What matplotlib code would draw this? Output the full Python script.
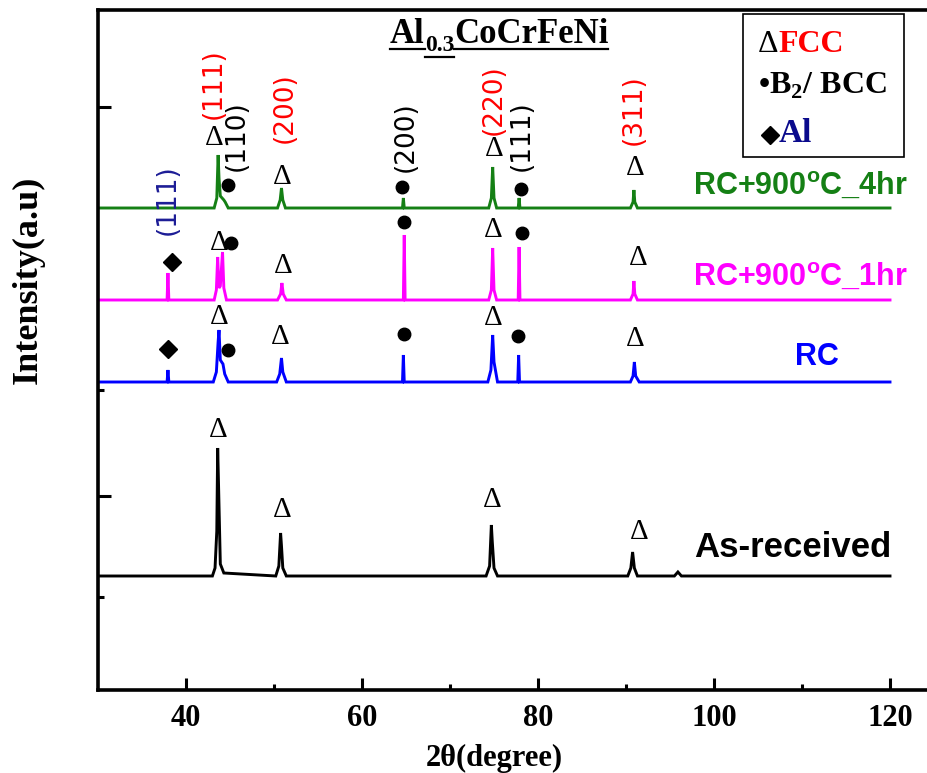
import matplotlib
matplotlib.use('Agg')
import matplotlib.pyplot as plt
from matplotlib.lines import Line2D
from matplotlib.patches import Rectangle
from matplotlib.ticker import FixedLocator

plt.rcParams['mathtext.fontset'] = 'custom'
plt.rcParams['mathtext.bf'] = 'Liberation Serif:bold'
plt.rcParams['mathtext.rm'] = 'Liberation Serif'
plt.rcParams['mathtext.sf'] = 'Liberation Sans:bold'

SERIF = 'Liberation Serif'
SANS = 'Liberation Sans'

# ---------------- data ----------------
# As-received
tt_asr = [30, 43.0, 43.3, 43.5, 43.6, 43.7, 43.9, 44.3, 50.2, 50.55, 50.75, 50.85, 51.0, 51.4,
          74.1, 74.5, 74.7, 74.8, 75.0, 75.4, 90.2, 90.55, 90.75, 90.95, 91.3, 95.5, 95.9, 96.3, 120]
int_asr = [0, 0, 8, 45, 128, 90, 12, 3, 0, 10, 43, 30, 8, 0,
           0, 10, 51, 35, 8, 0, 0, 8, 24, 8, 0, 0, 4, 0, 0]
# RC
tt_rc = [30, 37.85, 37.95, 38.05, 43.1, 43.45, 43.65, 43.75, 43.9, 44.2, 44.4, 44.8,
         50.3, 50.65, 50.85, 51.0, 51.4, 64.6, 64.7, 64.8, 74.3, 74.65, 74.85, 75.0, 75.4,
         77.7, 77.8, 77.9, 90.5, 90.8, 90.95, 91.1, 91.5, 120]
int_rc = [0, 0, 12, 0, 0, 10, 40, 52, 22, 18, 8, 0,
          0, 8, 24, 10, 0, 0, 27, 0, 0, 12, 47, 20, 0,
          0, 27, 0, 0, 6, 20, 6, 0, 0]
# RC+900C_1hr
tt_1h = [30, 37.85, 37.95, 38.05, 43.2, 43.45, 43.6, 43.75, 43.9, 44.15, 44.3, 44.6,
         50.4, 50.75, 50.9, 51.05, 51.4, 64.7, 64.8, 64.9, 74.4, 74.7, 74.85, 75.0, 75.3,
         77.75, 77.85, 77.95, 90.5, 90.8, 90.9, 91.0, 91.3, 120]
int_1h = [0, 0, 27, 0, 0, 10, 43, 12, 14, 48, 12, 0,
          0, 6, 17, 6, 0, 0, 65, 0, 0, 10, 52, 10, 0,
          0, 53, 0, 0, 6, 19, 6, 0, 0]
# RC+900C_4hr
tt_4h = [30, 43.2, 43.5, 43.65, 43.75, 43.9, 44.3, 44.45, 44.8, 50.4, 50.7, 50.85, 51.0, 51.3,
         64.6, 64.7, 64.8, 74.4, 74.7, 74.85, 75.0, 75.3, 77.75, 77.85, 77.95,
         90.5, 90.8, 90.9, 91.0, 91.3, 120]
int_4h = [0, 0, 10, 53, 30, 12, 8, 6, 0, 0, 8, 20, 8, 0,
          0, 10, 0, 0, 10, 41, 10, 0, 0, 10, 0,
          0, 6, 18, 6, 0, 0]

series_names = ["As-received", "RC", "RC+900$^{\\mathsf{o}}$C_1hr", "RC+900$^{\\mathsf{o}}$C_4hr"]
series_x = [tt_asr, tt_rc, tt_1h, tt_4h]
series_y = [int_asr, int_rc, int_1h, int_4h]
series_offset = [114, 308, 390, 482]
series_color = ['black', '#0000FF', '#FF00FF', '#158015']
series_label_pos = [(97.8, 133, 25), (109.2, 325, 22), (97.6, 404, 22), (97.6, 495, 22)]

x_ticks = [40, 60, 80, 100, 120]
x_minor = [50, 70, 90, 110]

# (hkl) labels: text, 2theta, y, colour
hkl_labels = [("(111)", 43.1, 606, '#FF0000'), ("(110)", 45.8, 554, 'black'),
              ("(200)", 51.25, 582, '#FF0000'), ("(200)", 65.0, 553, 'black'),
              ("(220)", 75.0, 590, '#FF0000'), ("(111)", 78.2, 554, 'black'),
              ("(311)", 90.9, 580, '#FF0000'), ("(111)", 37.95, 490, '#1c1c96')]
# phase markers
fcc_marks = [(43.18, 552), (50.9, 513), (75.0, 541), (91.02, 522),
             (43.75, 447), (51.0, 424), (74.9, 460), (91.36, 432),
             (43.75, 373), (50.68, 353), (74.9, 372), (91.02, 351),
             (43.64, 260), (50.9, 180), (74.77, 190), (91.48, 158)]
bcc_marks = [(44.77, 505), (64.55, 503), (78.07, 501),
             (45.11, 447), (64.77, 468), (78.18, 457),
             (44.77, 340), (64.77, 356), (77.73, 354)]
al_marks = [(38.4, 428), (37.95, 341)]

# ---------------- figure ----------------
W, H = 928, 773
fig = plt.figure(figsize=(W / 100, H / 100), dpi=100)
ax = fig.add_axes([98 / W, 83 / H, (934 - 98) / W, 680 / H])
ax.set_xlim(30, 125)
ax.set_ylim(0, 680)

for xs, ys, off, c in zip(series_x, series_y, series_offset, series_color):
    ax.plot(xs, [v + off for v in ys], color=c, lw=2.1, solid_joinstyle='miter')

for name, (x, y, fs), c in zip(series_names, series_label_pos, series_color):
    ax.text(x, y, name, color=c, fontsize=fs, fontweight='bold', family=SANS,
            ha='left', va='baseline')

for t, x, y, c in hkl_labels:
    ax.text(x, y, t, color=c, fontsize=19, family='DejaVu Sans', rotation=90,
            ha='center', va='center')

for x, y in fcc_marks:
    ax.text(x, y, "Δ", fontsize=21, family=SERIF, ha='center', va='center', color='black')
ax.plot([p[0] for p in bcc_marks], [p[1] for p in bcc_marks], 'o', color='black', ms=9, ls='none')
ax.plot([p[0] for p in al_marks], [p[1] for p in al_marks], 'D', color='black', ms=9.5, ls='none')

# spines & ticks
for s in ['left', 'bottom', 'top']:
    ax.spines[s].set_linewidth(2.6)
ax.spines['right'].set_visible(False)
ax.xaxis.set_major_locator(FixedLocator(x_ticks))
ax.xaxis.set_minor_locator(FixedLocator(x_minor))
ax.yaxis.set_major_locator(FixedLocator([194, 583]))
ax.yaxis.set_minor_locator(FixedLocator([93, 300]))
ax.tick_params(axis='both', which='major', direction='in', length=9, width=2.2,
               top=False, right=False)
ax.tick_params(axis='both', which='minor', direction='in', length=4.5, width=2.2,
               top=False, right=False)
ax.tick_params(axis='y', labelleft=False)
ax.tick_params(axis='x', pad=10)
for lab in ax.get_xticklabels():
    lab.set_fontfamily(SERIF)
    lab.set_fontweight('bold')
    lab.set_fontsize(22)

fig.text(494 / W, 1 - 766 / H, "2θ(degree)", fontsize=22, fontweight='bold', family=SERIF,
         ha='center', va='baseline')
fig.text(28 / W, 1 - 280 / H, "Intensity(a.u)", fontsize=26, fontweight='bold', family=SERIF,
         rotation=90, ha='center', va='center')

# legend box
ax.add_patch(Rectangle((103.3, 533), 18.3, 143, fill=False, lw=1.2, ec='black', zorder=5))

renderer = fig.canvas.get_renderer()
inv = ax.transData.inverted()


def place_after(prev, txt, dy_px=0, **kw):
    bb = prev.get_window_extent(renderer)
    x0, y0 = ax.transData.transform((prev._x, prev._y))
    xd, yd = inv.transform((bb.x1, y0 + dy_px))
    t = ax.text(xd, yd, txt, ha='left', va='baseline', **kw)
    return t


# legend contents
l1 = ax.text(105.0, 638, "Δ", fontsize=23, family=SERIF, color='black', ha='left', va='baseline')
place_after(l1, "FCC", fontsize=23, family=SERIF, fontweight='bold', color='#FF0000')
ax.text(105.0, 596, "•B$_{\\mathbf{2}}$/ BCC", fontsize=23, family=SERIF, fontweight='bold',
        color='black', ha='left', va='baseline')
ax.plot([106.4], [555], 'D', color='black', ms=9)
ax.text(107.4, 548, "Al", fontsize=24, family=SERIF, fontweight='bold', color='#0a0a8c',
        ha='left', va='baseline')

# title with underline
t1 = ax.text(40 + (390 - 186) / 8.8, 647, "Al", fontsize=25, family=SERIF, fontweight='bold',
             ha='left', va='baseline')
t2 = place_after(t1, "0.3", dy_px=-8, fontsize=17, family=SERIF, fontweight='bold')
t3 = place_after(t2, "CoCrFeNi", dy_px=8, fontsize=25, family=SERIF, fontweight='bold')


def underline(t, drop_px, lw=1.6):
    bb = t.get_window_extent(renderer)
    _, yb = ax.transData.transform((t._x, t._y))
    y = yb - drop_px
    fig.add_artist(Line2D([bb.x0 / W, bb.x1 / W], [y / H, y / H], color='black', lw=lw,
                          transform=fig.transFigure))


underline(t1, 6)
underline(t2, 6)
underline(t3, 6)

fig.savefig('out.png', dpi=100)
